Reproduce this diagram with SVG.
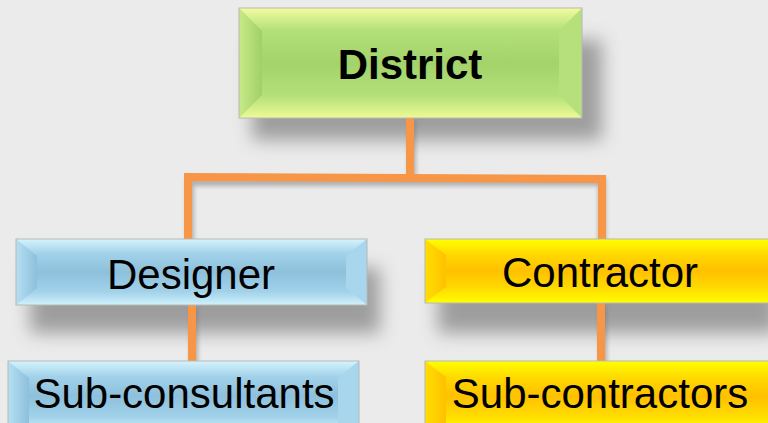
<svg xmlns="http://www.w3.org/2000/svg" width="768" height="423" viewBox="0 0 768 423">
<defs>
<style>
.lbl{font-family:"Liberation Sans",Arial,sans-serif;fill:#000;text-anchor:middle}
.conn{stroke:#f79646;stroke-width:8;fill:none;stroke-linecap:butt;stroke-linejoin:miter}
.edge{fill:none;stroke:#b8b8b8;stroke-width:1}
</style>
<filter id="blur" x="-20%" y="-50%" width="140%" height="200%"><feGaussianBlur stdDeviation="9"/></filter>
<filter id="cblur" x="-20%" y="-50%" width="140%" height="200%"><feGaussianBlur stdDeviation="2"/></filter>
<linearGradient id="gG" x1="0" y1="0" x2="0" y2="1">
<stop offset="0" stop-color="#f2fca0"/><stop offset="0.2" stop-color="#b4e07a"/><stop offset="0.5" stop-color="#a3d36a"/><stop offset="0.8" stop-color="#b4e07a"/><stop offset="1" stop-color="#eefa96"/></linearGradient>
<linearGradient id="gGs" x1="0" y1="0" x2="1" y2="0">
<stop offset="0" stop-color="#c8ea88"/><stop offset="1" stop-color="#a0d068"/></linearGradient>
<linearGradient id="gB" x1="0" y1="0" x2="0" y2="1">
<stop offset="0" stop-color="#d4f4fc"/><stop offset="0.22" stop-color="#a2d2ea"/><stop offset="0.5" stop-color="#8ec0dc"/><stop offset="0.8" stop-color="#a2d2ea"/><stop offset="1" stop-color="#d0f2fb"/></linearGradient>
<linearGradient id="gBs" x1="0" y1="0" x2="1" y2="0">
<stop offset="0" stop-color="#b6e0f2"/><stop offset="1" stop-color="#8dbfdc"/></linearGradient>
<linearGradient id="gY" x1="0" y1="0" x2="0" y2="1">
<stop offset="0" stop-color="#ffff00"/><stop offset="0.25" stop-color="#ffd800"/><stop offset="0.5" stop-color="#ffc000"/><stop offset="0.75" stop-color="#ffd800"/><stop offset="1" stop-color="#ffff00"/></linearGradient>
<linearGradient id="gYs" x1="0" y1="0" x2="1" y2="0">
<stop offset="0" stop-color="#ffe000"/><stop offset="1" stop-color="#ffc000"/></linearGradient>
</defs>
<rect width="768" height="423" fill="#ebebeb"/>

<!-- shadows -->
<g fill="#8a8a8a" opacity="0.8" filter="url(#blur)">
<rect x="252" y="40" width="350" height="100"/>
<rect x="30" y="268" width="350" height="65"/>
<rect x="438" y="268" width="340" height="65"/>
</g>

<g id="connectors">
<g filter="url(#cblur)" opacity="0.5"><path d="M412 120 V180 M190 244 V182 L602 182 V244 M194 307 V364 M603 305 V364" stroke="#777" stroke-width="8" fill="none"/></g>
<path class="conn" d="M410 117 V178"/>
<path class="conn" d="M188 242 V177 L602 179 V242"/>
<path class="conn" d="M192 305 V362"/>
<path class="conn" d="M601 303 V362"/>
</g>

<g id="district">
<rect x="239" y="8" width="343" height="110" fill="url(#gG)"/>
<polygon points="239,8 262,31 262,95 239,118" fill="url(#gGs)"/>
<polygon points="582,8 559,31 559,95 582,118" fill="#b6e07c"/>
<rect class="edge" x="239" y="8" width="343" height="110"/>
<text class="lbl" x="410" y="79" font-size="42" font-weight="bold">District</text>
</g>

<g id="designer">
<rect x="16" y="239" width="351" height="66" fill="url(#gB)"/>
<polygon points="16,239 37,256 37,288 16,305" fill="url(#gBs)"/>
<polygon points="367,239 346,256 346,288 367,305" fill="#a8d6ec"/>
<rect class="edge" x="16" y="239" width="351" height="66"/>
<text class="lbl" x="191" y="289" font-size="42">Designer</text>
</g>

<g id="contractor">
<rect x="425" y="239" width="350" height="64" fill="url(#gY)"/>
<polygon points="425,239 446,255 446,287 425,303" fill="url(#gYs)"/>
<rect class="edge" x="425" y="239" width="350" height="64"/>
<text class="lbl" x="600" y="287" font-size="42">Contractor</text>
</g>

<g id="subconsultants">
<rect x="8" y="361" width="351" height="70" fill="url(#gB)"/>
<polygon points="8,361 29,378 29,431 8,431" fill="url(#gBs)"/>
<polygon points="359,361 338,378 338,431 359,431" fill="#a8d6ec"/>
<rect class="edge" x="8" y="361" width="351" height="70"/>
<text class="lbl" x="184" y="408" font-size="42">Sub-consultants</text>
</g>

<g id="subcontractors">
<rect x="425" y="361" width="350" height="70" fill="url(#gY)"/>
<polygon points="425,361 446,377 446,431 425,431" fill="url(#gYs)"/>
<rect class="edge" x="425" y="361" width="350" height="70"/>
<text class="lbl" x="600" y="408" font-size="42">Sub-contractors</text>
</g>
</svg>
